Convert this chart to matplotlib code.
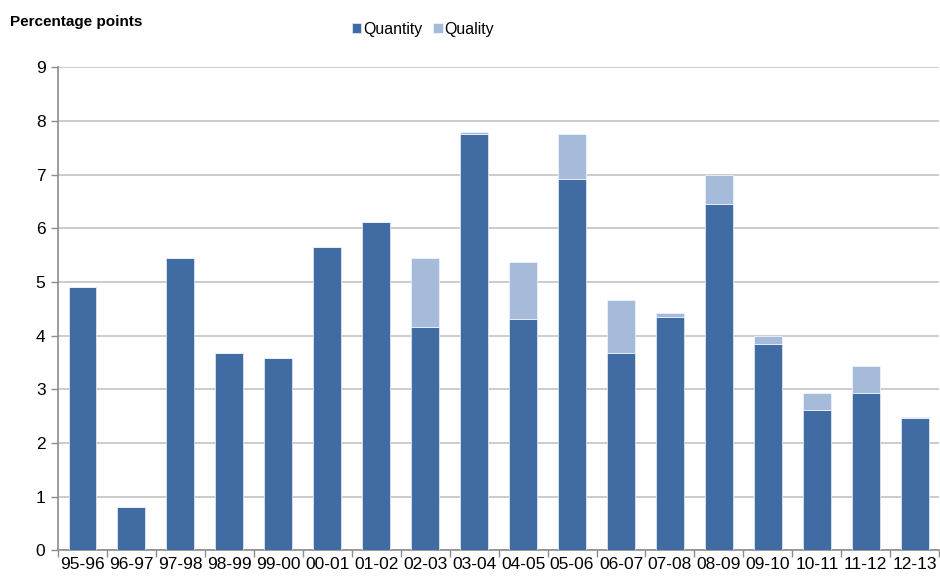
import numpy as np
import matplotlib
matplotlib.use("Agg")
import matplotlib.pyplot as plt

plt.rcParams["font.family"] = ["Liberation Sans", "DejaVu Sans"]

# Contributions by year, in percentage points
years    = ["95-96", "96-97", "97-98", "98-99", "99-00", "00-01", "01-02", "02-03", "03-04",
            "04-05", "05-06", "06-07", "07-08", "08-09", "09-10", "10-11", "11-12", "12-13"]
quantity = [4.90, 0.81, 5.44, 3.68, 3.59, 5.65, 6.12, 4.16, 7.75,
            4.31, 6.91, 3.68, 4.34, 6.46, 3.84, 2.61, 2.94, 2.46]
quality  = [0.00, 0.00, 0.00, 0.00, 0.00, 0.00, 0.00, 1.28, 0.05,
            1.07, 0.84, 0.98, 0.09, 0.54, 0.16, 0.32, 0.50, 0.03]

C_QTY  = "#416ca3"
C_QUAL = "#a6bbda"
GRID   = "#c4c4c4"
AXIS   = "#8c8c8c"

fig = plt.figure(figsize=(9.4, 5.78), dpi=100)
ax = fig.add_axes([0.0617, 0.0479, 0.9375, 0.8357])

x = np.arange(len(years))
ax.bar(x, quantity, width=0.57, color=C_QTY, edgecolor="#dde5f0", linewidth=0.6,
       label="Quantity", zorder=3)
ax.bar(x, quality, width=0.57, bottom=quantity, color=C_QUAL, edgecolor="#eef2f8",
       linewidth=0.6, label="Quality", zorder=3)

ax.set_xlim(-0.5, len(years) - 0.5)
ax.set_ylim(0, 9)
ax.set_yticks(range(0, 10))
ax.yaxis.grid(True, color=GRID, linewidth=1.2, zorder=0)

ax.set_xticks(x)
ax.set_xticklabels(years, fontsize=12.5)
ax.set_xticks(np.arange(-0.5, len(years)), minor=True)
ax.tick_params(axis="x", which="major", length=0, pad=5)
ax.tick_params(axis="x", which="minor", length=5, color=AXIS, width=1)
ax.tick_params(axis="y", length=5, color=AXIS, width=1, labelsize=12.5, pad=4)

for s in ["top", "right"]:
    ax.spines[s].set_visible(False)
for s in ["left", "bottom"]:
    ax.spines[s].set_color(AXIS)
    ax.spines[s].set_linewidth(1.2)

fig.text(0.011, 0.962, "Percentage points", fontsize=11, fontweight="bold",
         ha="left", va="center")

fig.legend(loc="center", bbox_to_anchor=(0.45, 0.949), ncol=2, frameon=False,
           fontsize=11.4, handlelength=0.6, handleheight=0.6, handletextpad=0.1,
           columnspacing=0.7)

fig.savefig("out.png", dpi=100)
